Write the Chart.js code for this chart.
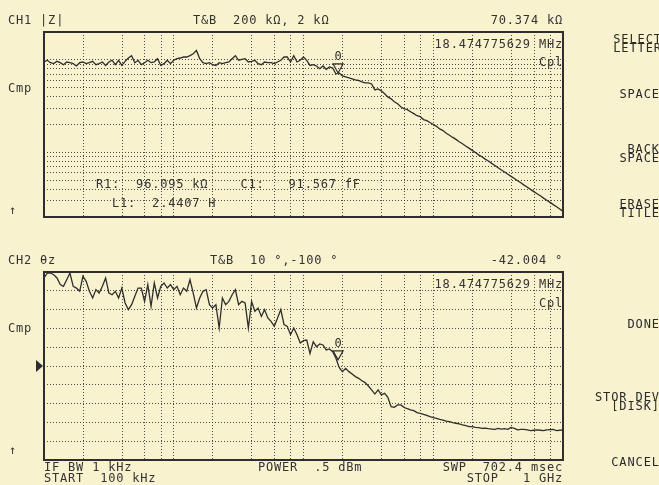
<!DOCTYPE html>
<html><head><meta charset="utf-8">
<script src="https://cdn.jsdelivr.net/npm/chart.js@4.4.1/dist/chart.umd.min.js"></script>
<style>
html,body{margin:0;padding:0;background:#f8f2cf;}
#wrap{position:relative;width:659px;height:485px;overflow:hidden;background:#f8f2cf;font-family:"DejaVu Sans Mono",monospace;color:#333;}
canvas{position:absolute;left:0;top:0;}
.t{position:absolute;font-size:12px;letter-spacing:0.8px;line-height:12px;white-space:pre;transform:translateY(-50%);}
.m{position:absolute;font-size:12px;letter-spacing:0.9px;line-height:9px;white-space:pre;text-align:right;color:#2a2a2a;}
</style></head>
<body>
<div id="wrap">
<canvas id="c1" width="659" height="485"></canvas>
<canvas id="c2" width="659" height="485"></canvas>

<div class="t" style="left:8px;top:20px">CH1 |Z|</div>
<div class="t" style="left:193px;top:20px">T&amp;B  200 kΩ, 2 kΩ</div>
<div class="t" style="right:96px;top:20px">70.374 kΩ</div>
<div class="t" style="left:8px;top:88px">Cmp</div>
<div class="t" style="left:9px;top:210px">↑</div>
<div class="t" style="right:96px;top:44px">18.474775629 MHz</div>
<div class="t" style="right:96px;top:62px">Cpl</div>
<div class="t" style="left:96px;top:184px">R1:  96.095 kΩ    C1:   91.567 fF</div>
<div class="t" style="left:112px;top:203px">L1:  2.4407 H</div>

<div class="t" style="left:8px;top:260px">CH2 θz</div>
<div class="t" style="left:210px;top:260px">T&amp;B  10 °,-100 °</div>
<div class="t" style="right:96px;top:260px">-42.004 °</div>
<div class="t" style="left:8px;top:328px">Cmp</div>
<div class="t" style="left:9px;top:450px">↑</div>
<div class="t" style="right:96px;top:284px">18.474775629 MHz</div>
<div class="t" style="right:96px;top:303px">Cpl</div>

<div class="t" style="left:44px;top:467px">IF BW 1 kHz</div>
<div class="t" style="left:44px;top:478px">START  100 kHz</div>
<div class="t" style="left:258px;top:467px">POWER  .5 dBm</div>
<div class="t" style="right:96px;top:467px">SWP  702.4 msec</div>
<div class="t" style="right:96px;top:478px">STOP   1 GHz</div>

<div class="m" style="right:-3px;top:35px">SELECT<br>LETTER</div>
<div class="m" style="right:-1px;top:90px">SPACE</div>
<div class="m" style="right:-1px;top:145px">BACK<br>SPACE</div>
<div class="m" style="right:-1px;top:200px">ERASE<br>TITLE</div>
<div class="m" style="right:-1px;top:320px">DONE</div>
<div class="m" style="right:-1px;top:393px">STOR DEV<br>[DISK]</div>
<div class="m" style="right:-1px;top:458px">CANCEL</div>
</div>
<script>
// ---- data ----
const freqMHz = [
0.1,0.1059,0.1122,0.1189,0.1259,0.1334,0.1413,0.1496,0.1585,0.1679,0.1778,0.1884,0.1995,0.2113,0.2239,0.2371,0.2512,0.2661,0.2818,0.2985,0.3162,0.335,0.3548,0.3758,0.3981,0.4217,0.4467,0.4732,0.5012,0.5309,0.5623,0.5957,0.631,0.6683,0.7079,0.7499,0.7943,0.8414,0.8913,0.9441,
1,1.059,1.122,1.189,1.259,1.334,1.413,1.496,1.585,1.679,1.778,1.884,1.995,2.113,2.239,2.371,2.512,2.661,2.818,2.985,3.162,3.35,3.548,3.758,3.981,4.217,4.467,4.732,5.012,5.309,5.623,5.957,6.31,6.683,7.079,7.499,7.943,8.414,8.913,9.441,
10,10.59,11.22,11.89,12.59,13.34,14.13,14.96,15.85,16.79,17.78,18.84,19.95,21.13,22.39,23.71,25.12,26.61,28.18,29.85,31.62,33.5,35.48,37.58,39.81,42.17,44.67,47.32,50.12,53.09,56.23,59.57,63.1,66.83,70.79,74.99,79.43,84.14,89.13,94.41,
100,105.9,112.2,118.9,125.9,133.4,141.3,149.6,158.5,167.9,177.8,188.4,199.5,211.3,223.9,237.1,251.2,266.1,281.8,298.5,316.2,335,354.8,375.8,398.1,421.7,446.7,473.2,501.2,530.9,562.3,595.7,631,668.3,707.9,749.9,794.3,841.4,891.3,944.1,1000];

const impedanceKOhm = [
94.8,98.9,93.2,91.0,96.4,93.2,88.6,94.8,93.2,91.0,85.8,93.2,94.8,91.0,93.2,96.4,88.6,91.0,94.8,87.0,94.8,98.9,88.6,98.9,87.0,96.4,104.7,111,93.2,98.9,88.6,93.2,98.9,93.2,94.8,102.9,87.0,91.0,98.9,91.0,
98.9,102.9,104.7,107.3,107.3,111,116.3,126.5,102.9,93.2,91.0,93.2,88.6,87.0,93.2,91.0,93.2,94.8,102.9,111,98.9,101.3,102.9,94.8,96.4,98.9,91.0,88.6,94.8,93.2,93.2,91.0,94.8,98.9,107.3,107.3,94.8,111,94.8,98.9,
107.3,98.9,87.0,88.6,85.8,80.2,85.8,79.0,83.7,81.6,70.3,72.1,66.9,65.3,63.7,62.1,60.6,59.8,57.7,56.3,56.3,54.9,47.3,48.5,46.2,42.9,39.8,37.9,35.2,33.5,31.1,29.6,28.9,27.5,26.2,24.9,24.3,22.6,22.0,21.0,
20.0,19.1,17.9,17.2,16.1,15.3,14.5,13.8,13.0,12.4,11.7,11.1,10.5,9.95,9.4,8.95,8.45,8.05,7.6,7.2,6.82,6.45,6.13,5.8,5.5,5.22,4.93,4.69,4.42,4.2,3.98,3.76,3.57,3.4,3.2,3.04,2.88,2.72,2.58,2.44,2.3];

const phaseDeg = [
6.5,9.4,9.4,8.4,6.5,2.6,1.6,5.5,9.4,1.6,0.6,-1.3,7.5,4.5,-1.3,-5.2,-0.3,-2.3,1.6,6.5,-2.3,-3.3,-1.3,-5.2,0.6,-8.1,-12.0,-9.1,-4.2,0.6,0.6,-7.2,2.6,-10.1,3.6,-5.2,1.6,3.6,0.6,2.6,
-0.3,1.6,-3.3,0.6,-1.3,5.5,-2.3,-11.1,-5.2,-1.3,-0.3,-9.1,-11.1,-9.1,-22.8,-5.2,-9.1,-7.2,-3.3,-0.3,-9.1,-7.2,-8.1,-22.8,-7.2,-13.0,-11.1,-16.0,-12.0,-16.9,-18.9,-21.8,-16.9,-12.0,-20.8,-21.8,-26.7,-22.8,-26.7,-31.5,
-30.2,-29.8,-37.6,-30.8,-33.7,-32.1,-32.7,-35.6,-35.0,-36.6,-40.5,-45.8,-48.3,-46.4,-48.3,-49.7,-51.2,-52.2,-53.6,-54.7,-56.7,-59.0,-61.4,-59.0,-61.9,-61.0,-63.3,-68.8,-69.2,-67.8,-67.8,-69.2,-70.0,-70.7,-71.1,-72.3,-72.7,-73.3,-73.9,-74.6,
-75.2,-75.6,-76.2,-76.6,-77.2,-77.6,-78.1,-78.5,-78.9,-79.5,-79.9,-80.5,-80.5,-80.9,-81.1,-81.5,-81.3,-81.7,-81.9,-82.1,-81.5,-81.9,-81.7,-82.1,-80.9,-81.5,-82.4,-82.1,-82.1,-82.4,-82.8,-82.6,-82.4,-82.6,-82.8,-82.4,-82.2,-82.1,-82.8,-82.6,-82.4];

const markerFreqMHz = 18.474775629;
const markerImpedanceKOhm = 70.374;
const markerPhaseDeg = -42.004;
const refPhaseDeg = -45;

const freqGridMHz = [0.2,0.4,0.6,0.8,1,2,4,6,8,10,20,40,60,80,100,200,400,600,800];
const impedanceGridKOhm = [3,4,5,6,7,8,9,10,20,30,40,50,60,70,80,90,100];
const phaseGridDeg = [-89,-78,-67,-56,-45,-34,-23,-12,-1];

// ---- drawing ----
const INK = '#2e2e2e';
const GRID = 'rgba(55,55,55,0.9)';

const framePlugin = {
  id: 'frame',
  afterDraw(chart, args, o) {
    const {ctx, chartArea: a} = chart;
    const xs = chart.scales.x, ys = chart.scales.y;
    ctx.save();
    ctx.strokeStyle = INK; ctx.lineWidth = 2;
    ctx.strokeRect(a.left, a.top, a.right - a.left, a.bottom - a.top);
    const px = xs.getPixelForValue(o.mx), py = ys.getPixelForValue(o.my);
    ctx.lineWidth = 1.2;
    ctx.beginPath();
    ctx.moveTo(px, py - 1); ctx.lineTo(px - 5, py - 10); ctx.lineTo(px + 5, py - 10); ctx.closePath();
    ctx.stroke();
    ctx.fillStyle = INK;
    ctx.font = '12px "DejaVu Sans Mono"';
    ctx.textAlign = 'center'; ctx.textBaseline = 'middle';
    ctx.fillText('0', px, py - 17);
    if (o.ref !== undefined && o.ref !== null) {
      const ry = ys.getPixelForValue(o.ref);
      ctx.beginPath();
      ctx.moveTo(a.left - 8, ry - 6); ctx.lineTo(a.left - 1, ry); ctx.lineTo(a.left - 8, ry + 6); ctx.closePath();
      ctx.fill();
    }
    ctx.restore();
  }
};

function gridAxis(extra, gridVals) {
  return Object.assign({
    ticks: {display: false},
    grid: {color: GRID, lineWidth: 1, drawTicks: false},
    border: {display: false, dash: [1, 2]},
    afterBuildTicks(s) { s.ticks = gridVals.map(v => ({value: v})); }
  }, extra);
}

function makeChart(id, values, yAxis, yGrid, padding, marker) {
  return new Chart(document.getElementById(id), {
    type: 'line',
    data: {datasets: [{
      data: freqMHz.map((f, i) => ({x: f, y: values[i]})),
      borderColor: INK, borderWidth: 1.3, pointRadius: 0, tension: 0, fill: false
    }]},
    options: {
      responsive: false, animation: false, devicePixelRatio: 1,
      layout: {padding},
      plugins: {legend: {display: false}, tooltip: {enabled: false}, frame: marker},
      scales: {
        x: gridAxis({type: 'logarithmic', min: 0.1, max: 1000}, freqGridMHz),
        y: gridAxis(yAxis, yGrid)
      }
    },
    plugins: [framePlugin]
  });
}

makeChart('c1', impedanceKOhm, {type: 'logarithmic', min: 2, max: 200}, impedanceGridKOhm,
  {left: 44, top: 32, right: 96, bottom: 268}, {mx: markerFreqMHz, my: markerImpedanceKOhm});
makeChart('c2', phaseDeg, {type: 'linear', min: -100, max: 10}, phaseGridDeg,
  {left: 44, top: 272, right: 96, bottom: 25}, {mx: markerFreqMHz, my: markerPhaseDeg, ref: refPhaseDeg});
</script>
</body></html>
